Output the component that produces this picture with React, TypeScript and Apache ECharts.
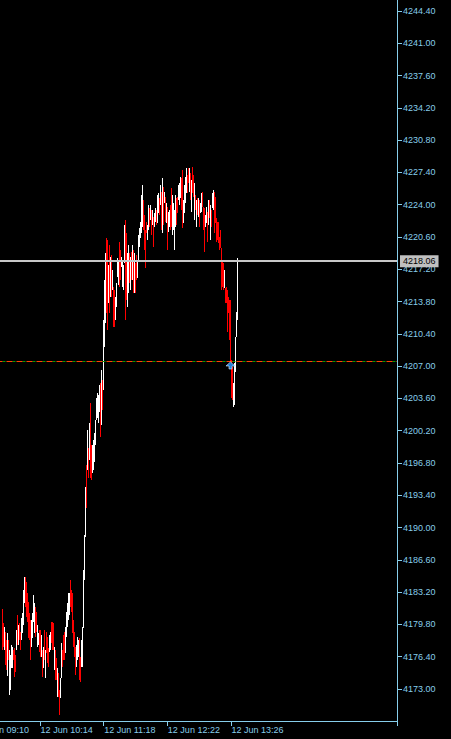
import React, { useEffect, useRef } from "react";
import * as echarts from "echarts";

// ---- axis / time data ----
const axisDay = "12 Jun";
const axisStart = "09:10"; // first slot of the time axis (partly off-screen)
const axisSlots = 423; // one-minute slots across the plot
const labelEvery = 64; // minutes between time labels
const firstBarTime = "09:36";

const priceMin = 4169.63;
const priceMax = 4245.56;
const priceTicks = [
  4173.0, 4176.4, 4179.8, 4183.2, 4186.6, 4190.0, 4193.4, 4196.8, 4200.2, 4203.6, 4207.0,
  4210.4, 4213.8, 4217.2, 4220.6, 4224.0, 4227.4, 4230.8, 4234.2, 4237.6, 4241.0, 4244.4,
];

// ---- bars (M1): high, low, direction (W = up / white, R = down / red) ----
const highs = [
  4181.4, 4180.0, 4179.5, 4179.0, 4178.2, 4178.9, 4178.2, 4177.1, 4176.6, 4177.6,
  4177.4, 4177.1, 4177.3, 4176.6, 4179.2, 4180.8, 4179.7, 4180.0, 4179.0, 4180.5,
  4181.0, 4183.4, 4184.8, 4184.8, 4184.3, 4183.1, 4182.2, 4181.0, 4180.3, 4180.3,
  4181.0, 4182.9, 4182.1, 4181.6, 4181.1, 4179.7, 4178.9, 4179.2, 4179.2, 4178.7,
  4177.1, 4177.4, 4179.2, 4177.1, 4179.0, 4178.5, 4177.3, 4178.7, 4179.0, 4180.1,
  4180.1, 4180.0, 4177.4, 4177.1, 4176.3, 4175.2, 4174.7, 4172.9, 4174.2, 4177.8,
  4177.1, 4178.7, 4179.0, 4179.5, 4181.1, 4182.1, 4183.1, 4183.1, 4184.5, 4183.4,
  4183.1, 4180.3, 4179.0, 4177.4, 4177.6, 4178.5, 4178.2, 4178.4, 4176.4, 4178.2,
  4179.5, 4185.5, 4189.2, 4194.3, 4196.6, 4200.3, 4198.4, 4201.0, 4203.1, 4198.7,
  4198.7, 4199.2, 4200.0, 4201.3, 4203.6, 4204.2, 4204.0, 4205.0, 4205.2, 4206.6,
  4205.5, 4211.9, 4216.1, 4218.9, 4220.5, 4220.3, 4217.7, 4219.8, 4218.5, 4218.7,
  4217.1, 4215.3, 4215.0, 4214.3, 4215.8, 4218.4, 4218.2, 4220.1, 4219.2, 4218.5,
  4218.2, 4217.7, 4221.9, 4222.4, 4221.0, 4218.9, 4219.8, 4218.9, 4218.5, 4219.0,
  4219.8, 4219.2, 4218.9, 4217.9, 4218.7, 4218.2, 4220.8, 4221.5, 4222.2, 4225.0,
  4226.1, 4224.5, 4222.9, 4221.7, 4221.3, 4222.2, 4221.9, 4224.0, 4223.7, 4224.0,
  4223.4, 4223.4, 4222.7, 4223.1, 4223.7, 4223.4, 4225.0, 4225.2, 4224.7, 4226.1,
  4225.3, 4226.8, 4225.9, 4225.3, 4224.8, 4224.2, 4223.8, 4223.2, 4223.4, 4224.0,
  4225.8, 4225.0, 4224.2, 4223.4, 4225.0, 4224.7, 4224.8, 4226.1, 4226.3, 4226.9,
  4226.8, 4227.7, 4224.5, 4226.1, 4226.9, 4227.9, 4227.1, 4227.9, 4227.9, 4227.3,
  4226.6, 4228.0, 4227.1, 4226.3, 4225.0, 4224.5, 4224.7, 4224.7, 4224.5, 4224.2,
  4225.2, 4225.3, 4223.8, 4223.7, 4222.9, 4223.8, 4223.2, 4224.5, 4224.5, 4224.0,
  4223.4, 4225.2, 4225.6, 4225.3, 4224.8, 4222.6, 4222.2, 4222.2, 4220.6, 4221.3,
  4219.4, 4218.2, 4217.9, 4217.1, 4215.2, 4215.3, 4215.0, 4214.3, 4214.0, 4214.0,
  4207.6, 4206.9, 4205.2, 4207.3, 4210.1, 4212.7, 4218.4,
];

const lows = [
  4177.1, 4177.4, 4177.1, 4175.5, 4175.0, 4174.4, 4176.1, 4172.4, 4172.9, 4175.2,
  4175.2, 4176.1, 4174.3, 4174.8, 4177.1, 4177.6, 4177.6, 4178.2, 4177.1, 4178.2,
  4178.9, 4179.7, 4182.1, 4181.6, 4180.6, 4180.1, 4178.4, 4178.2, 4176.1, 4177.4,
  4178.4, 4180.1, 4178.9, 4178.5, 4179.0, 4177.4, 4177.6, 4176.9, 4176.4, 4176.4,
  4174.3, 4175.2, 4176.1, 4174.2, 4176.8, 4175.7, 4175.3, 4176.9, 4177.1, 4177.8,
  4177.1, 4177.1, 4175.0, 4174.0, 4174.0, 4172.2, 4172.2, 4170.3, 4172.1, 4174.2,
  4175.3, 4176.1, 4176.1, 4176.8, 4178.5, 4179.5, 4180.3, 4180.8, 4181.6, 4181.1,
  4178.9, 4177.4, 4176.4, 4174.5, 4175.3, 4176.1, 4176.4, 4174.0, 4173.7, 4175.3,
  4175.3, 4179.4, 4184.5, 4189.0, 4192.1, 4196.1, 4195.2, 4197.1, 4195.2, 4195.0,
  4195.8, 4196.1, 4196.9, 4198.7, 4201.3, 4201.5, 4201.0, 4202.2, 4199.5, 4200.8,
  4202.4, 4204.5, 4209.0, 4211.5, 4212.6, 4210.8, 4213.7, 4212.6, 4214.3, 4214.3,
  4215.0, 4211.1, 4211.1, 4211.9, 4213.2, 4216.4, 4215.5, 4215.3, 4216.1, 4217.4,
  4215.3, 4215.0, 4217.9, 4211.9, 4214.0, 4213.2, 4214.7, 4215.8, 4215.0, 4216.1,
  4216.1, 4214.7, 4214.7, 4214.7, 4216.1, 4216.3, 4218.2, 4219.5, 4220.5, 4221.0,
  4221.7, 4221.3, 4220.6, 4219.2, 4217.3, 4221.0, 4220.3, 4221.3, 4221.7, 4222.4,
  4220.8, 4221.9, 4219.5, 4221.7, 4222.2, 4221.9, 4222.1, 4223.1, 4222.9, 4224.0,
  4221.3, 4221.0, 4221.9, 4224.2, 4222.2, 4222.1, 4219.2, 4221.1, 4221.7, 4221.3,
  4221.7, 4220.8, 4221.3, 4219.2, 4221.7, 4221.9, 4223.1, 4224.5, 4224.0, 4224.7,
  4223.4, 4221.5, 4222.1, 4223.1, 4224.2, 4225.2, 4225.2, 4226.3, 4225.3, 4224.5,
  4223.2, 4225.2, 4224.8, 4222.4, 4223.4, 4221.7, 4222.9, 4222.7, 4221.7, 4223.1,
  4223.2, 4223.8, 4221.3, 4219.0, 4221.7, 4222.1, 4220.1, 4221.9, 4222.6, 4220.3,
  4221.7, 4223.7, 4223.4, 4221.0, 4222.1, 4220.1, 4220.3, 4220.0, 4219.2, 4219.4,
  4215.0, 4215.3, 4215.0, 4215.2, 4213.7, 4213.7, 4210.6, 4212.6, 4209.8, 4207.4,
  4203.6, 4203.4, 4202.7, 4202.9, 4206.4, 4210.1, 4211.9,
];

const dirs =
  "RRWRRWRWWW" + "WRRRWRWRRW" + "WWWRRRRRRW" + "WWWRRWWRRW" + "RWRWRRRWWR" +
  "RRWRRWRRWW" + "RRRWWWWWRR" + "RRRRWWWRRW" + "WWWWRWRWRR" + "WWWWWWWWRW" +
  "RWWWRRWRWR" + "WRRWWWWRRW" + "WWWRRWWRWR" + "WRWRRWWWWW" + "WRRRRRWWRW" +
  "RWRWWRWWRW" + "RWRWRWRWWR" + "RWWWWRRWWW" + "RRWWWWRRWR" + "WRRWRWRWRW" +
  "WRRRWWRWRW" + "RWWRRRRRRR" + "RRRWRRRRRR" + "RRWWWWW";

// ---- price lines / trade marker ----
const bidPrice = 4218.06;
const entryPrice = 4207.49;
const entryTime = "13:25";

// ---- styles ----
const AX = "#87CEEB";
const FONT = "'Liberation Sans', Arial, sans-serif";
const UP = "#ffffff";
const DOWN = "#ff0000";

const toMin = (t: string) => {
  const [h, m] = t.split(":").map(Number);
  return h * 60 + m;
};
const pad = (n: number) => (n < 10 ? "0" + n : "" + n);
const startMin = toMin(axisStart);
const categories: string[] = [];
for (let i = 0; i < axisSlots; i++) {
  const t = startMin + i;
  categories.push(`${axisDay} ${pad(Math.floor(t / 60))}:${pad(t % 60)}`);
}
const barOffset = toMin(firstBarTime) - startMin;
const lastBarIndex = barOffset + highs.length - 1;
const entryIndex = toMin(entryTime) - startMin;

const barData = highs.map((h, k) => [barOffset + k, h, lows[k], dirs[k] === "W" ? 1 : -1]);

const showSlot = (index: number) => index % labelEvery === 0 && index <= lastBarIndex;

const option: any = {
  animation: false,
  backgroundColor: "#000000",
  grid: { left: 0, right: 54, top: 0, bottom: 18, containLabel: false },
  xAxis: {
    type: "category",
    data: categories,
    boundaryGap: true,
    axisLine: { show: true, onZero: false, lineStyle: { color: AX, width: 1 } },
    axisTick: { show: true, interval: (i: number) => showSlot(i), length: 5, lineStyle: { color: AX } },
    axisLabel: {
      show: true,
      interval: (i: number) => showSlot(i),
      align: "left",
      color: AX,
      fontSize: 9,
      fontFamily: FONT,
      margin: 4,
    },
    splitLine: { show: false },
  },
  yAxis: {
    type: "value",
    position: "right",
    min: priceMin,
    max: priceMax,
    splitLine: { show: false },
    axisLine: { show: true, lineStyle: { color: AX, width: 1 } },
    axisTick: { show: true, length: 5, lineStyle: { color: AX }, customValues: priceTicks },
    axisLabel: {
      color: AX,
      fontSize: 9,
      fontFamily: FONT,
      margin: 6,
      customValues: priceTicks,
      formatter: (v: number) => v.toFixed(2),
    },
  },
  series: [
    {
      type: "line",
      z: 1,
      data: [],
      silent: true,
      markLine: {
        silent: true,
        symbol: ["none", "none"],
        label: { show: false },
        data: [
          { yAxis: entryPrice, lineStyle: { color: "#00a000", width: 1, type: [3, 7], dashOffset: -6.5 } },
          { yAxis: entryPrice, lineStyle: { color: "#ff4500", width: 1, type: [6, 4] } },
        ],
      },
    },
    {
      type: "custom",
      z: 2,
      data: barData,
      encode: { x: 0, y: [1, 2] },
      clip: true,
      renderItem: (params: any, api: any) => {
        const i = api.value(0);
        const hi = api.coord([i, api.value(1)]);
        const lo = api.coord([i, api.value(2)]);
        const w = Math.max(1, Math.round(api.size([1, 0])[0]));
        const x = Math.round(hi[0] - w / 2);
        const y0 = Math.round(hi[1]);
        const y1 = Math.max(Math.round(lo[1]), y0 + 1);
        return {
          type: "rect",
          shape: { x, y: y0, width: w, height: y1 - y0 },
          style: { fill: api.value(3) > 0 ? UP : DOWN },
        };
      },
    },
    {
      type: "line",
      z: 3,
      data: [],
      silent: true,
      markLine: {
        silent: true,
        symbol: ["none", "none"],
        data: [
          {
            yAxis: bidPrice,
            lineStyle: { color: "#c8c8c8", width: 2, type: "solid" },
            label: {
              show: true,
              position: "end",
              formatter: bidPrice.toFixed(2),
              color: "#000000",
              backgroundColor: "#c0c0c0",
              padding: [2, 3, 1, 3],
              fontSize: 9,
              fontFamily: FONT,
              distance: 3,
            },
          },
        ],
      },
      markPoint: {
        silent: true,
        label: { show: false },
        data: [
          {
            coord: [entryIndex, entryPrice],
            symbol: "path://M4.5,0 L9,4 L6,4 L6,7 L3,7 L3,4 L0,4 Z",
            symbolSize: [9, 7],
            symbolOffset: [0, 4],
            itemStyle: { color: "#1e7fd8", borderColor: "#d8ecff", borderWidth: 0.6 },
          },
        ],
      },
    },
  ],
};

export default function App() {
  const ref = useRef<HTMLDivElement>(null);
  useEffect(() => {
    const chart = echarts.init(ref.current as HTMLDivElement, null, { renderer: "svg" });
    chart.setOption(option);
    return () => chart.dispose();
  }, []);
  return (
    <div style={{ position: "fixed", left: 0, top: 0, width: 451, height: 739, background: "#000", overflow: "hidden" }}>
      <div
        ref={ref}
        style={{ position: "absolute", left: -26, top: 0, width: 477, height: 739, background: "#000" }}
      />
    </div>
  );
}
